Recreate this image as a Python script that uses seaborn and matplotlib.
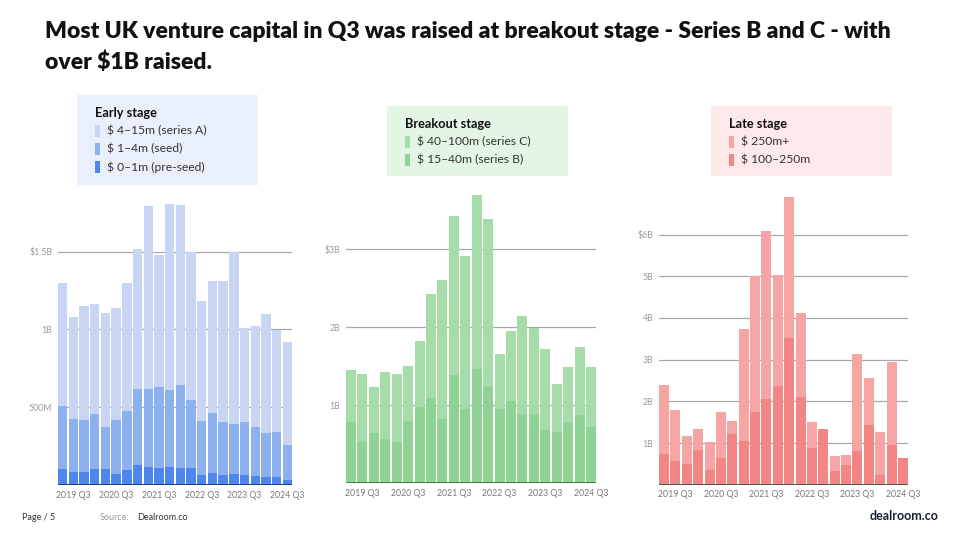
import matplotlib
matplotlib.use("Agg")
import matplotlib.pyplot as plt
import seaborn as sns
import pandas as pd
from matplotlib.patches import Rectangle

sns.set_theme(style="white")
plt.rcParams['font.family'] = ['Lato', 'DejaVu Sans']

quarters = ["2019 Q2", "2019 Q3", "2019 Q4",
            "2020 Q1", "2020 Q2", "2020 Q3", "2020 Q4",
            "2021 Q1", "2021 Q2", "2021 Q3", "2021 Q4",
            "2022 Q1", "2022 Q2", "2022 Q3", "2022 Q4",
            "2023 Q1", "2023 Q2", "2023 Q3", "2023 Q4",
            "2024 Q1", "2024 Q2", "2024 Q3"]
tick_labels = ["2019 Q3", "2020 Q3", "2021 Q3", "2022 Q3", "2023 Q3", "2024 Q3"]

# Early stage ($B), segment values
pre_seed = [0.101, 0.082, 0.082, 0.101, 0.101, 0.073, 0.097, 0.131, 0.118, 0.107, 0.114,
            0.112, 0.107, 0.067, 0.080, 0.067, 0.069, 0.062, 0.058, 0.054, 0.054, 0.032]
seed = [0.406, 0.341, 0.333, 0.355, 0.271, 0.348, 0.380, 0.488, 0.501, 0.523, 0.494,
        0.531, 0.439, 0.343, 0.386, 0.337, 0.322, 0.346, 0.314, 0.279, 0.286, 0.228]
series_a = [0.795, 0.660, 0.739, 0.711, 0.737, 0.720, 0.825, 0.896, 1.175, 0.848, 1.197,
            1.158, 0.954, 0.770, 0.849, 0.905, 1.109, 0.600, 0.653, 0.769, 0.659, 0.660]

# Breakout stage ($B)
series_b = [0.782, 0.534, 0.641, 0.568, 0.526, 0.803, 0.979, 1.090, 0.825, 1.389, 0.949,
            1.466, 1.235, 0.957, 1.060, 0.889, 0.889, 0.679, 0.658, 0.774, 0.872, 0.722]
series_c = [0.671, 0.863, 0.594, 0.859, 0.871, 0.697, 0.850, 1.337, 1.782, 2.034, 1.966,
            2.235, 2.158, 0.701, 0.889, 1.256, 1.102, 1.039, 0.616, 0.722, 0.880, 0.765]

# Late stage ($B)
late_100_250 = [0.736, 0.568, 0.496, 0.824, 0.344, 0.648, 1.216, 1.056, 1.744, 2.048, 2.368,
                3.512, 2.096, 0.888, 1.328, 0.336, 0.472, 0.800, 1.440, 0.240, 0.952, 0.632]
late_250_plus = [1.648, 1.224, 0.672, 0.512, 0.672, 1.104, 0.312, 2.672, 3.264, 4.040, 2.656,
                 3.400, 2.016, 0.608, 0.000, 0.352, 0.240, 2.336, 1.112, 1.016, 1.984, 0.000]

W, H = 960, 540
fig = plt.figure(figsize=(9.6, 5.4), dpi=100)
fig.patch.set_facecolor("white")

def px_axes(x0, x1, ytop, ybot):
    return fig.add_axes([x0 / W, (H - ybot) / H, (x1 - x0) / W, (ybot - ytop) / H])

def panel(ax, segments, colors, ymax, yticks, ylabels, base_color):
    df = pd.DataFrame({"quarter": quarters})
    cum = [0.0] * len(quarters)
    tops = []
    for seg in segments:
        cum = [c + s for c, s in zip(cum, seg)]
        tops.append(list(cum))
    # draw from the tallest cumulative series to the lowest
    for top, col in reversed(list(zip(tops, colors))):
        df["v"] = top
        sns.barplot(data=df, x="quarter", y="v", color=col, saturation=1,
                    width=0.88, ax=ax, zorder=2, edgecolor="none")
    ax.set_xlim(-0.44, len(quarters) - 1 + 0.44)
    ax.set_ylim(0, ymax)
    for t in yticks:
        ax.axhline(t, color="#a8a8a8", lw=0.9, zorder=1)
    ax.axhline(0, color=base_color, lw=1.4, zorder=3)
    ax.set_yticks(yticks)
    ax.set_yticklabels(ylabels, fontsize=6.3, color="#999999")
    ax.set_xticks([quarters.index(t) for t in tick_labels])
    ax.set_xticklabels(tick_labels, fontsize=6.3, color="#777777")
    ax.tick_params(axis="x", length=0, pad=4)
    ax.tick_params(axis="y", length=0, pad=4)
    ax.set_xlabel("")
    ax.set_ylabel("")
    for s in ax.spines.values():
        s.set_visible(False)
    ax.set_facecolor("none")

ax1 = px_axes(58, 292, 190, 485)
panel(ax1, [pre_seed, seed, series_a], ["#4f86ee", "#8db0ef", "#c8d6f4"],
      1.897, [0.5, 1.0, 1.5], ["500M", "1B", "$1.5B"], "#1f3a7a")

ax2 = px_axes(346, 596, 190, 483.3)
panel(ax2, [series_b, series_c], ["#8ed294", "#a6dcaa"],
      3.76, [1, 2, 3], ["1B", "2B", "$3B"], "#3f7f46")

ax3 = px_axes(659, 908, 190, 484.7)
panel(ax3, [late_100_250, late_250_plus], ["#f48585", "#f6a4a4"],
      7.07, [1, 2, 3, 4, 5, 6], ["1B", "2B", "3B", "4B", "5B", "$6B"], "#555555")

# overlay for annotations in pixel coordinates
ov = fig.add_axes([0, 0, 1, 1], zorder=10)
ov.set_xlim(0, W)
ov.set_ylim(H, 0)
ov.axis("off")

ov.text(45, 32, "Most UK venture capital in Q3 was raised at breakout stage - Series B and C - with",
        fontsize=16.5, fontweight="heavy", color="#111111", va="center", ha="left")
ov.text(45, 62, "over $1B raised.",
        fontsize=16.5, fontweight="heavy", color="#111111", va="center", ha="left")

def legend_box(x0, y0, x1, y1, bg, title, items):
    ov.add_patch(Rectangle((x0, y0), x1 - x0, y1 - y0, facecolor=bg, edgecolor="none"))
    tx = x0 + 18
    ov.text(tx, y0 + 18, title, fontsize=9.2, fontweight="bold", color="#111111", va="center")
    for i, (lab, col) in enumerate(items):
        yy = y0 + 36 + 18 * i
        ov.add_patch(Rectangle((tx, yy - 6), 5, 12, facecolor=col, edgecolor="none"))
        ov.text(tx + 12, yy, lab, fontsize=8.7, color="#333333", va="center")

legend_box(77, 95, 258, 185, "#e9effb", "Early stage",
           [("$ 4–15m (series A)", "#c8d6f4"), ("$ 1–4m (seed)", "#8db0ef"),
            ("$ 0–1m (pre-seed)", "#4f86ee")])
legend_box(387, 106, 568, 176, "#e3f6e5", "Breakout stage",
           [("$ 40–100m (series C)", "#a6dcaa"), ("$ 15–40m (series B)", "#8ed294")])
legend_box(711, 106, 892, 176, "#fde9e9", "Late stage",
           [("$ 250m+", "#f6a4a4"), ("$ 100–250m", "#f48585")])

ov.text(22, 517, "Page / 5", fontsize=6.5, color="#333333", va="center")
ov.text(100, 517, "Source:", fontsize=6.5, color="#999999", va="center")
ov.text(137, 517, "Dealroom.co", fontsize=6.5, color="#333333", va="center")
ov.text(938, 516, "dealroom.co", fontsize=9, fontweight="bold", color="#1a1f36",
        va="center", ha="right")

fig.savefig("out.png", dpi=100, facecolor="white")
